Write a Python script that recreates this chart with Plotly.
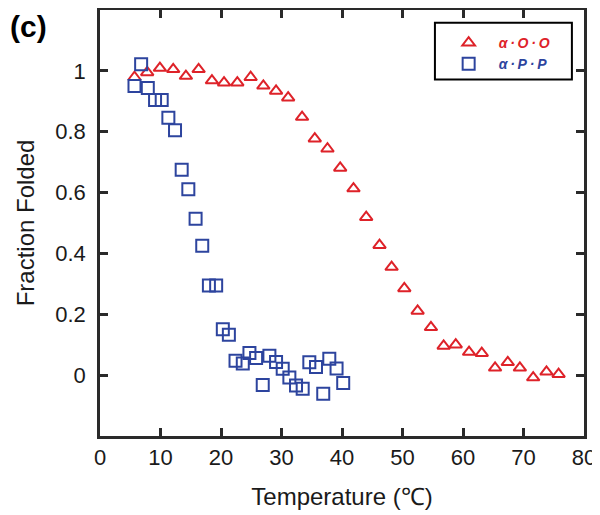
import plotly.graph_objects as go

# ---- data ----
temp_OO = [5.7, 7.8, 9.9, 12.1, 14.2, 16.3, 18.5, 20.5, 22.7, 24.9, 27.0, 29.1, 31.1,
           33.4, 35.5, 37.6, 39.7, 41.9, 44.0, 46.2, 48.2, 50.3, 52.5, 54.7, 56.8,
           58.8, 61.0, 63.1, 65.3, 67.4, 69.4, 71.6, 73.8, 75.8]
frac_OO = [0.979, 0.995, 1.009, 1.005, 0.983, 1.005, 0.968, 0.961, 0.961, 0.979,
           0.951, 0.934, 0.912, 0.848, 0.777, 0.744, 0.681, 0.613, 0.519, 0.427,
           0.355, 0.285, 0.211, 0.157, 0.096, 0.100, 0.076, 0.072, 0.024, 0.042,
           0.024, -0.008, 0.011, 0.003]

temp_PP = [5.7, 6.8, 7.9, 9.1, 10.2, 11.3, 12.4, 13.5, 14.6, 15.8, 16.9, 18.0, 19.2,
           20.3, 21.3, 22.4, 23.6, 24.7, 25.8, 26.9, 28.0, 29.1, 30.2, 31.3, 32.4,
           33.5, 34.6, 35.7, 36.9, 37.9, 39.1, 40.2]
frac_PP = [0.950, 1.022, 0.944, 0.904, 0.904, 0.846, 0.805, 0.675, 0.611, 0.514,
           0.425, 0.295, 0.295, 0.151, 0.133, 0.047, 0.038, 0.073, 0.056, -0.032,
           0.064, 0.043, 0.021, -0.008, -0.034, -0.045, 0.042, 0.027, -0.061, 0.054,
           0.022, -0.026]

x_ticks = [0, 10, 20, 30, 40, 50, 60, 70, 80]
y_ticks = [0, 0.2, 0.4, 0.6, 0.8, 1]
y_ticktext = ["0", "0.2", "0.4", "0.6", "0.8", "1"]

name_OO = "α\u2009·\u2009O\u2009·\u2009O"
name_PP = "α\u2009·\u2009P\u2009·\u2009P"

RED = "#DE2229"
BLUE = "#2D449E"
AX = "#2a2a2a"
FONT = "Liberation Sans, Arial, Helvetica, sans-serif"

fig = go.Figure()
fig.add_trace(go.Scatter(
    x=temp_OO, y=frac_OO, mode="markers",
    name=f"<span style='color:{RED}'><b><i>{name_OO}</i></b></span>",
    marker=dict(symbol="triangle-up-open", size=11, color=RED, line=dict(width=2, color=RED)),
))
fig.add_trace(go.Scatter(
    x=temp_PP, y=frac_PP, mode="markers",
    name=f"<span style='color:{BLUE}'><b><i>{name_PP}</i></b></span>",
    marker=dict(symbol="square-open", size=12, color=BLUE, line=dict(width=2, color=BLUE)),
))

axis_common = dict(
    showline=True, linewidth=2.5, linecolor=AX, mirror="ticks",
    ticks="inside", ticklen=8, tickwidth=2.5, tickcolor=AX,
    showgrid=False, zeroline=False, automargin=False,
    tickfont=dict(family=FONT, size=22, color="#1a1a1a"),
)

fig.update_xaxes(
    range=[0, 80], tickvals=x_ticks, ticktext=[str(v) for v in x_ticks],
    title=dict(text="Temperature (℃)", font=dict(family=FONT, size=24, color="#1a1a1a"), standoff=20),
    ticklabelstandoff=0,
    **axis_common,
)
fig.update_yaxes(
    range=[-0.2, 1.2], tickvals=y_ticks, ticktext=y_ticktext,
    title=dict(text="Fraction Folded", font=dict(family=FONT, size=24, color="#1a1a1a"), standoff=14),
    ticklabelstandoff=7,
    **axis_common,
)

# legend frame
fig.add_shape(type="rect", xref="paper", yref="paper",
              x0=0.692, x1=0.975, y0=0.837, y1=0.970,
              line=dict(color="black", width=2), fillcolor="rgba(0,0,0,0)")

fig.add_annotation(text="<b>(c)</b>", xref="paper", yref="paper",
                   x=-0.19, y=1.0046, xanchor="left", yanchor="top",
                   showarrow=False, font=dict(family=FONT, size=30, color="black"))

# the page adds an 8px body margin, so the figure is 8px smaller than the window
fig.update_layout(
    width=592, height=507,
    margin=dict(l=92, r=16, t=2, b=79),
    paper_bgcolor="white", plot_bgcolor="white",
    showlegend=True,
    legend=dict(x=0.6997, y=0.960, xanchor="left", yanchor="top",
                bgcolor="rgba(0,0,0,0)", borderwidth=0, itemwidth=50,
                font=dict(family=FONT, size=14), tracegroupgap=0),
)

fig.write_html("out.html")
